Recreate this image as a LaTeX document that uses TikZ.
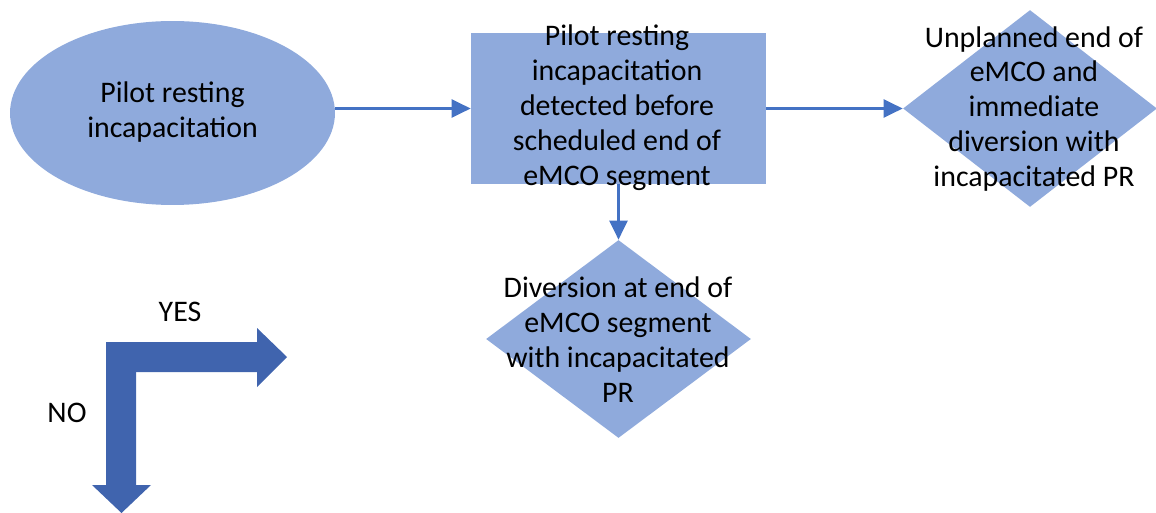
\documentclass[tikz,border=0pt]{standalone}
\usepackage{fontspec}
\setmainfont{Carlito}
\usetikzlibrary{shapes.geometric,arrows.meta}
\tikzset {>={Triangle[length=10.8pt,width=10.2pt]}}
\definecolor{shapefill}{HTML}{8FAADC}
\definecolor{linkblue}{HTML}{4472C4}
\definecolor{legendblue}{HTML}{4064AE}
\tikzset{
  shp/.style={fill=shapefill,inner sep=0pt},
  lbl/.style={align=center,inner sep=0pt,font=\fontsize{17}{19.9}\selectfont},
  conn/.style={->,draw=linkblue,line width=1.4pt}
}

\begin{document}
\begin{tikzpicture}[x=0.02cm,y=-0.02cm]
\useasboundingbox (0,0) rectangle (1156,513);

\node[shp,ellipse,minimum width=6.5cm,minimum height=3.68cm] (start) at (172.5,113) {};
\node[lbl] (startText) at (172.5,112) {Pilot resting\\incapacitation};

\node[shp,rectangle,minimum width=5.9cm,minimum height=3.02cm] (detect) at (618.5,108.5) {};
\node[lbl] (detectText) at (617,107.5)
  {Pilot resting\\incapacitation\\detected before\\scheduled end of\\eMCO segment};

\node[shp,diamond,minimum width=5.08cm,minimum height=3.94cm] (unplanned) at (1030,108.5) {};
\node[lbl] (unplannedText) at (1034,109)
  {Unplanned end of\\eMCO and\\immediate\\diversion with\\incapacitated PR};

\node[shp,diamond,minimum width=5.3cm,minimum height=3.96cm] (divert) at (618.5,339) {};
\node[lbl] (divertText) at (618,340)
  {Diversion at end of\\eMCO segment\\with incapacitated\\PR};

\draw[conn] (start.east |- detect.west) -- (detect.west);
\draw[conn] (detect.east) -- (unplanned.west);
\draw[conn] (detect.south) -- (divert.north);

\fill[legendblue] (106,342) -- (257,342) -- (257,328) -- (287,357) -- (257,387)
  -- (257,372) -- (106,372) -- cycle;
\fill[legendblue] (106,372) -- (136,372) -- (136,485) -- (151,485) -- (121.5,513)
  -- (92,485) -- (106,485) -- cycle;
\node[lbl] (yes) at (180,312) {YES};
\node[lbl] (no) at (67,413) {NO};
\end{tikzpicture}
\end{document}
